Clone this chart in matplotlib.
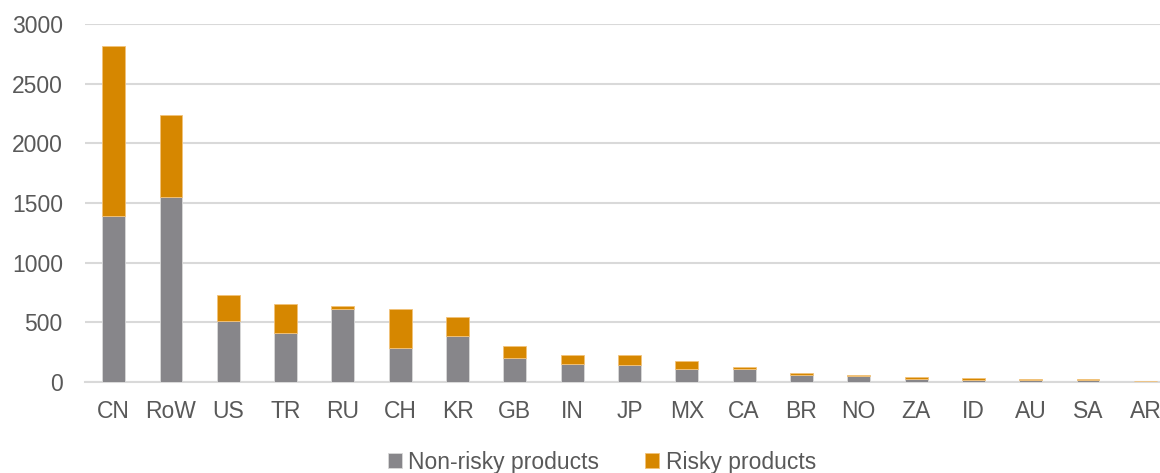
import matplotlib
matplotlib.use("Agg")
import matplotlib.pyplot as plt
import numpy as np

categories = ["CN", "RoW", "US", "TR", "RU", "CH", "KR", "GB", "IN", "JP",
              "MX", "CA", "BR", "NO", "ZA", "ID", "AU", "SA", "AR"]
non_risky = [1394, 1548, 508, 408, 609, 282, 388, 204, 148, 145,
             105, 112, 61, 48, 22, 18, 18, 20, 5]
risky = [1424, 687, 224, 243, 25, 327, 157, 95, 78, 81,
         68, 14, 14, 11, 23, 18, 7, 2, 4]
yticks = [0, 500, 1000, 1500, 2000, 2500, 3000]

plt.rcParams['font.family'] = ['Liberation Sans', 'DejaVu Sans']

W, H = 1160, 473
fig = plt.figure(figsize=(W / 100, H / 100), dpi=100)
left, right = 85 / W, 1174 / W
bottom, top = (H - 382) / H, (H - 24) / H
ax = fig.add_axes([left, bottom, right - left, top - bottom])

gray = "#87868a"
orange = "#d68700"
text_col = "#595959"
fs = 16.5

x = np.arange(len(categories))
ax.bar(x, non_risky, width=0.4, color=gray, edgecolor="#d9d9d9", linewidth=0.6,
       label="Non-risky products", zorder=3)
ax.bar(x, risky, width=0.4, bottom=non_risky, color=orange, edgecolor="#f2c27a",
       linewidth=0.6, label="Risky products", zorder=3)

ax.set_xlim(-0.5, len(categories) - 0.5)
ax.set_ylim(0, 3000)
ax.set_yticks(yticks)
ax.set_yticklabels([str(v) for v in yticks])
ax.set_xticks(x)
ax.set_xticklabels(categories)
ax.tick_params(axis="both", length=0, labelsize=fs, colors=text_col)
ax.tick_params(axis="x", pad=13)
ax.tick_params(axis="y", pad=16)
ax.grid(axis="y", color="#d9d9d9", linewidth=1.5, zorder=0)
for s in ["top", "right", "left"]:
    ax.spines[s].set_visible(False)
ax.spines["bottom"].set_color("#d9d9d9")
ax.spines["bottom"].set_linewidth(1.5)

fig.legend(loc="center", bbox_to_anchor=(602 / W, 1 - 462 / H), ncol=2,
           frameon=False, fontsize=fs, labelcolor=text_col,
           handlelength=0.6, handleheight=0.6, handletextpad=0.3,
           columnspacing=2.0, borderpad=0)

fig.savefig("out.png", dpi=100)
